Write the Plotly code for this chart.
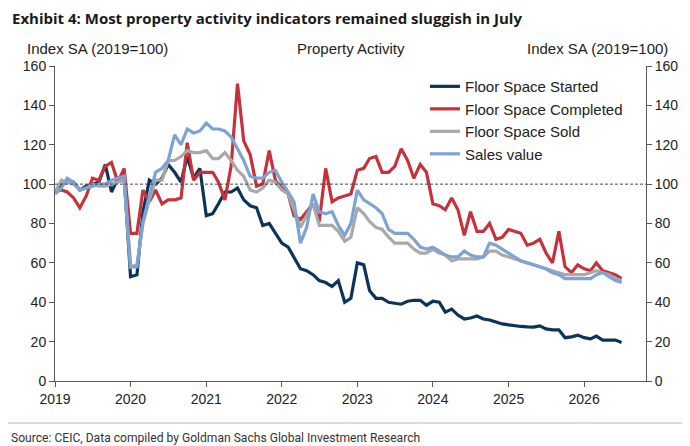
import pandas as pd
import plotly.graph_objects as go

# monthly index, Jan 2019 .. Jul 2026
months = pd.date_range("2019-01-01", periods=91, freq="MS")

floor_started = [96, 99, 102, 101, 97, 99, 100, 101, 110, 96, 103, 104,
                 53, 54, 86, 102, 100, 103, 110, 106, 101, 114, 103, 108,
                 84, 85, 90, 96, 96, 98, 92, 89, 88, 79, 80, 75,
                 70, 68, 63, 57, 56, 54, 51, 50, 48, 51, 40, 42,
                 60, 59, 46, 42, 42, 40, 39.5, 39, 40.5, 41, 41, 38.5,
                 40.5, 40, 35, 36.5, 33.5, 31.5, 32, 33, 31.5, 31, 30, 29,
                 28.5, 28, 27.7, 27.5, 27.4, 28, 26.5, 26, 26, 22, 22.4, 23.3,
                 22, 21.4, 22.8, 20.8, 21, 20.8, 19.6]

floor_completed = [96, 97, 96, 93, 88, 94, 103, 102, 109, 111, 101, 108,
                   75, 75, 97, 91, 97, 90, 92, 92, 93, 121, 102, 106,
                   106, 106, 101, 92, 109, 151, 122, 115, 99, 100, 117, 102,
                   98, 95, 84, 82, 86, 90, 81, 108, 91, 93, 94, 95,
                   107, 108, 113, 114, 106, 106, 109, 118, 112, 103, 110, 106,
                   90, 89, 87, 93, 87, 74, 86, 76, 76, 80, 72, 73,
                   77, 76, 75, 69, 70, 72, 65, 60, 76, 58, 55, 59,
                   57, 56, 60, 56, 55, 54, 52]

floor_sold = [96, 102, 101, 100, 97, 98, 100, 99, 99, 100, 101, 102,
              58, 59, 80, 92, 102, 102, 112, 112, 114, 117, 116, 116,
              117, 113, 113, 116, 112, 107, 104, 97, 96, 98, 102, 101,
              97, 95, 87, 78, 84, 90, 79, 79, 79, 76, 71, 73,
              88, 85, 81, 78, 77, 73, 70, 70, 70, 67, 65, 65,
              67, 65, 64, 61, 62, 62, 62, 62, 63, 66, 66, 64,
              63, 62, 61, 60, 59, 58, 57, 56, 55, 54, 54, 54,
              54, 55, 56, 55, 54, 52, 51]

sales_value = [95, 98, 103, 101, 97, 98, 99, 100, 100, 102, 103, 104,
               58, 58, 81, 93, 106, 108, 112, 125, 120, 128, 126, 127,
               131, 128, 128, 127, 124, 118, 112, 104, 103, 103, 106, 107,
               101, 96, 91, 70, 78, 95, 86, 85, 86, 79, 74, 80,
               97, 92, 90, 88, 85, 77, 75, 75, 75, 72, 68, 67,
               68, 66, 64, 63, 63, 66, 64, 63, 63, 70, 69, 67,
               65, 63, 61, 60, 59, 58, 57, 55, 54, 52, 52, 52,
               52, 52, 54, 55, 53, 51, 50]

y_ticks = [0, 20, 40, 60, 80, 100, 120, 140, 160]

FONT = "Liberation Sans"
AXIS = "#595959"

fig = go.Figure()

## series, drawn in legend order (sales value on top)
fig.add_trace(go.Scatter(x=months, y=floor_started, name="Floor Space Started",
                         mode="lines", line=dict(color="#0b3458", width=3.2)))
fig.add_trace(go.Scatter(x=months, y=floor_completed, name="Floor Space Completed",
                         mode="lines", line=dict(color="#c6323c", width=3.2)))
fig.add_trace(go.Scatter(x=months, y=floor_sold, name="Floor Space Sold",
                         mode="lines", line=dict(color="#a9a9a9", width=3.2)))
fig.add_trace(go.Scatter(x=months, y=sales_value, name="Sales value", yaxis="y2",
                         mode="lines", line=dict(color="#7da3d3", width=3.2)))

axis_common = dict(range=[0, 160], tickvals=y_ticks, ticks="outside", ticklen=5,
                   tickcolor=AXIS, showline=True, linecolor=AXIS, linewidth=1,
                   showgrid=False, zeroline=False,
                   tickfont=dict(family=FONT, size=14, color="#222"))

# page has an 8px body margin, so the figure is 8px smaller than the window
fig.update_layout(
    width=682, height=438,
    margin=dict(l=47, r=42, t=58, b=65),
    paper_bgcolor="white", plot_bgcolor="white",
    font=dict(family=FONT, size=14, color="#222"),
    xaxis=dict(range=["2019-01-01", "2026-10-27"], tick0="2019-01-01", dtick="M12",
               tickformat="%Y", ticks="outside", ticklen=5, tickcolor=AXIS,
               showline=True, linecolor=AXIS, linewidth=1, showgrid=False,
               zeroline=False, tickfont=dict(family=FONT, size=14, color="#222")),
    yaxis=dict(side="left", **axis_common),
    yaxis2=dict(side="right", overlaying="y", **axis_common),
    legend=dict(x=0.626, y=0.987, xanchor="left", yanchor="top",
                bgcolor="rgba(0,0,0,0)", font=dict(family=FONT, size=15, color="#222"),
                tracegroupgap=0),
    showlegend=True,
)

# 100 reference line
fig.add_shape(type="line", xref="paper", yref="y", x0=0, x1=1, y0=100, y1=100,
              line=dict(color="#444", width=1, dash="3px,2px"))

# separator line above source
fig.add_shape(type="line", xref="paper", yref="paper", x0=-0.08, x1=1.071,
              y0=-0.133, y1=-0.133, line=dict(color="#cfcfcf", width=1.5))

fig.add_annotation(text="<b>Exhibit 4: Most property activity indicators remained sluggish in July</b>",
                   xref="paper", yref="paper", x=-0.076, y=1.151, xanchor="left",
                   yanchor="middle", showarrow=False,
                   font=dict(family="Open Sans", size=15, color="#1a1a1a"))
fig.add_annotation(text="Index SA (2019=100)", xref="paper", yref="paper", x=0.0725, y=1.057,
                   xanchor="center", yanchor="middle", showarrow=False,
                   font=dict(family=FONT, size=15, color="#222"))
fig.add_annotation(text="Property Activity", xref="paper", yref="paper", x=0.5, y=1.057,
                   xanchor="center", yanchor="middle", showarrow=False,
                   font=dict(family=FONT, size=15, color="#222"))
fig.add_annotation(text="Index SA (2019=100)", xref="paper", yref="paper", x=0.918, y=1.057,
                   xanchor="center", yanchor="middle", showarrow=False,
                   font=dict(family=FONT, size=15, color="#222"))
fig.add_annotation(text="Source: CEIC, Data compiled by Goldman Sachs Global Investment Research",
                   xref="paper", yref="paper", x=-0.0776, y=-0.181, xanchor="left",
                   yanchor="middle", showarrow=False,
                   font=dict(family="Roboto", size=12.1, color="#333"))

fig.write_html("out.html")
